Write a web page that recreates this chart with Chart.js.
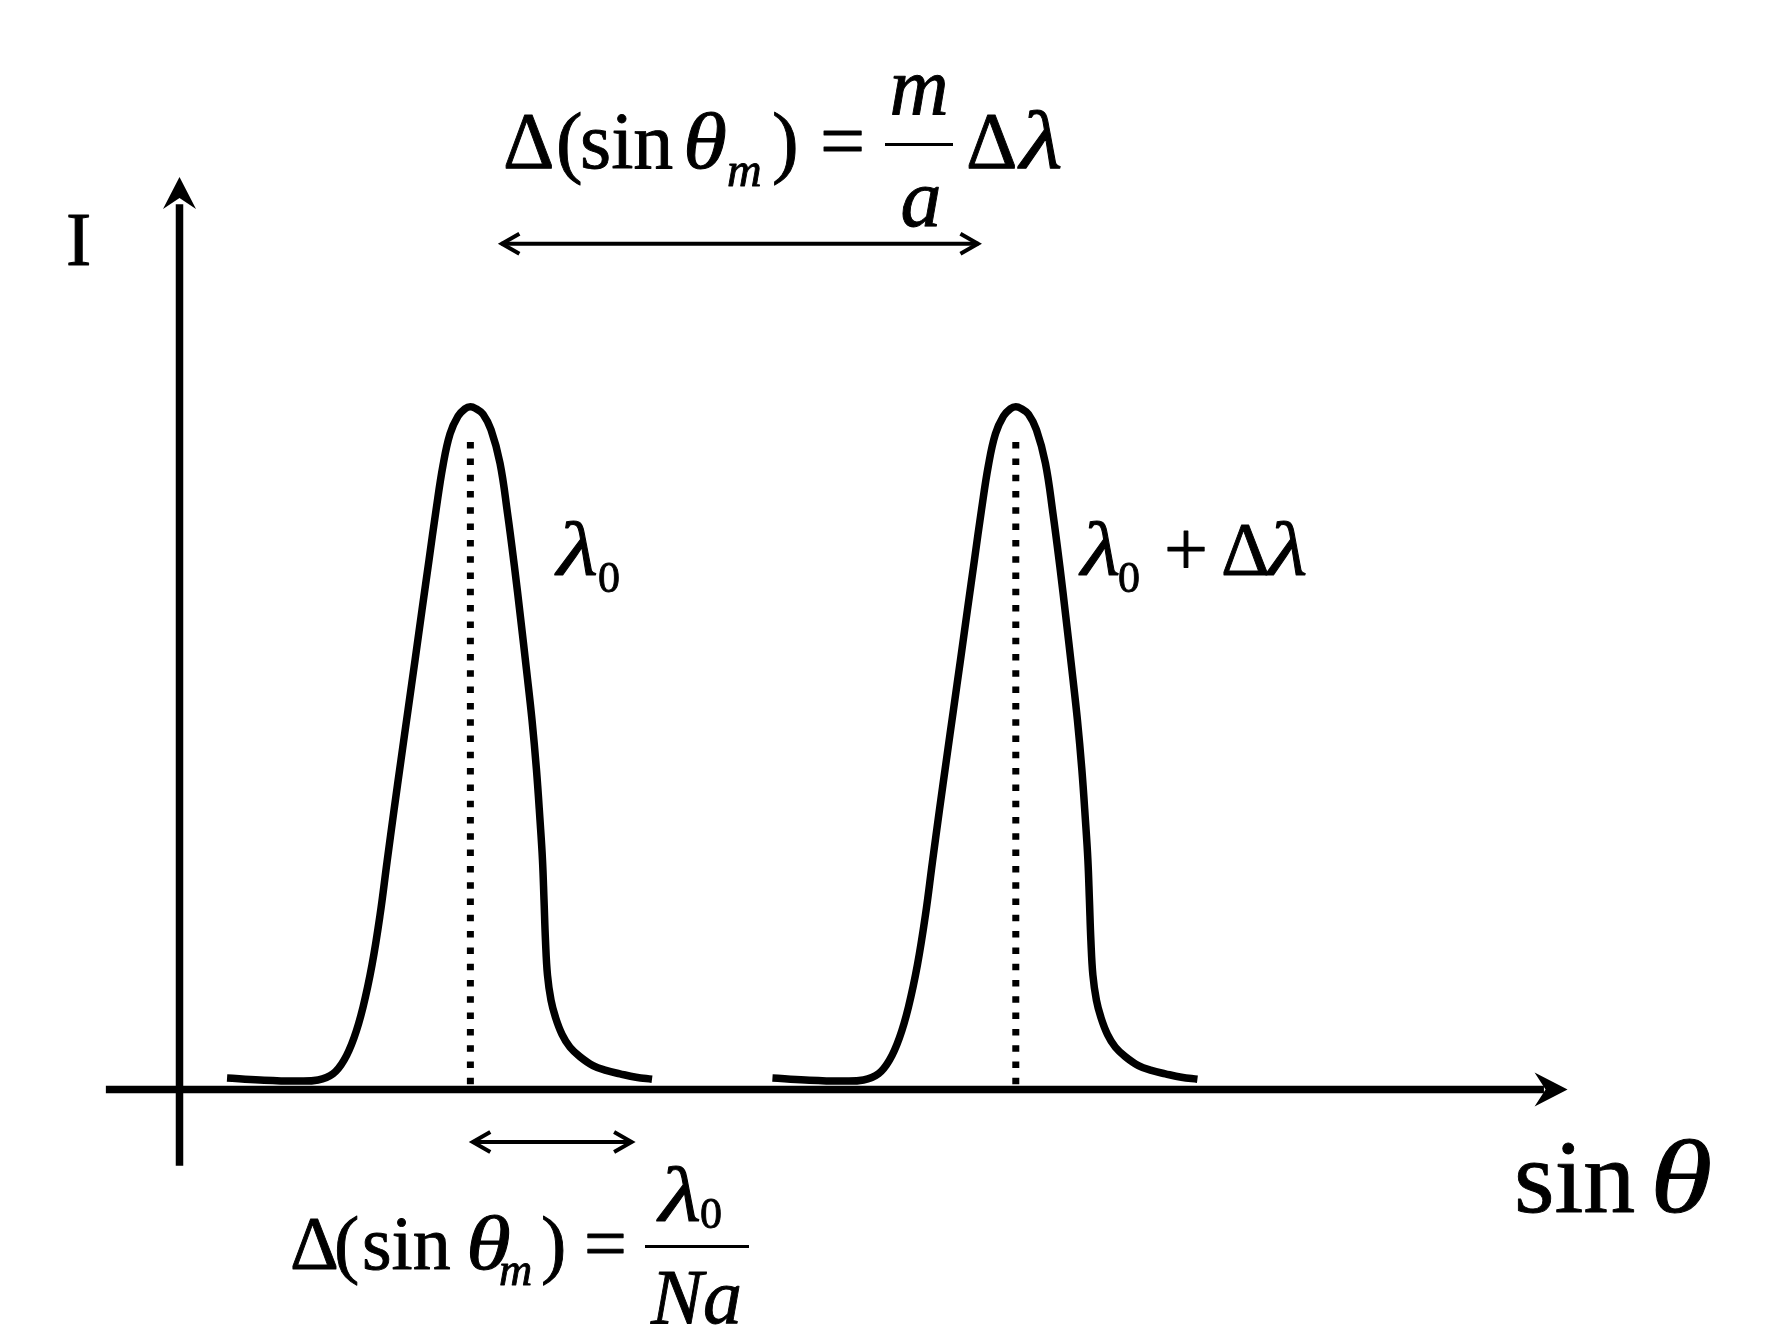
<!DOCTYPE html>
<html>
<head>
<meta charset="utf-8">
<script src="https://cdn.jsdelivr.net/npm/chart.js@4.4.1/dist/chart.umd.min.js"></script>
<style>
  html, body { margin: 0; padding: 0; background: #ffffff; }
  #wrap { width: 1784px; height: 1340px; position: relative; }
</style>
</head>
<body>
<div id="wrap"><canvas id="c"></canvas></div>
<script>
// ---- data (x in sin(theta) units, y in intensity units) ----
const peak1X = [0.523, 0.886, 1.271, 1.524, 1.689, 1.810, 1.920, 2.019, 2.118, 2.206, 2.283, 2.360, 2.437, 2.514, 2.591, 2.668, 2.745, 2.822, 2.899, 2.976, 3.064, 3.141, 3.200, 3.262, 3.339, 3.427, 3.526, 3.608, 3.685, 3.751, 3.817, 3.878, 3.927, 3.966, 3.993, 4.010, 4.026, 4.048, 4.087, 4.136, 4.208, 4.296, 4.406, 4.549, 4.692, 4.846, 5.022, 5.198];
const peak1Y = [0.17, 0.14, 0.125, 0.14, 0.23, 0.43, 0.76, 1.21, 1.83, 2.56, 3.34, 4.10, 4.84, 5.57, 6.30, 7.04, 7.77, 8.50, 9.16, 9.62, 9.88, 9.99, 10.02, 9.99, 9.91, 9.68, 9.19, 8.46, 7.67, 6.93, 6.16, 5.42, 4.69, 3.95, 3.37, 2.78, 2.19, 1.68, 1.31, 1.06, 0.81, 0.62, 0.48, 0.35, 0.28, 0.23, 0.18, 0.15];
const peak2X = [6.523, 6.886, 7.271, 7.524, 7.689, 7.810, 7.920, 8.019, 8.118, 8.206, 8.283, 8.360, 8.437, 8.514, 8.591, 8.668, 8.745, 8.822, 8.899, 8.976, 9.064, 9.141, 9.200, 9.262, 9.339, 9.427, 9.526, 9.608, 9.685, 9.751, 9.817, 9.878, 9.927, 9.966, 9.993, 10.010, 10.026, 10.048, 10.087, 10.136, 10.208, 10.296, 10.406, 10.549, 10.692, 10.846, 11.022, 11.198];
const peak2Y = [0.17, 0.14, 0.125, 0.14, 0.23, 0.43, 0.76, 1.21, 1.83, 2.56, 3.34, 4.10, 4.84, 5.57, 6.30, 7.04, 7.77, 8.50, 9.16, 9.62, 9.88, 9.99, 10.02, 9.99, 9.91, 9.68, 9.19, 8.46, 7.67, 6.93, 6.16, 5.42, 4.69, 3.95, 3.37, 2.78, 2.19, 1.68, 1.31, 1.06, 0.81, 0.62, 0.48, 0.35, 0.28, 0.23, 0.18, 0.15];
const peakCenters = [3.2, 9.2];
const dottedTop = 9.5;
const xAxisExtent = [-0.81, 15.27];
const yAxisExtent = [-1.12, 13.39];
const wideArrow = [3.53, 8.80, 12.41];     // x1, x2, y : Δ(sinθm) = (m/a)Δλ
const narrowArrow = [3.21, 4.99, -0.77];   // x1, x2, y : Δ(sinθm) = λ0/Na
const peakLabels = ['λ', '0', '+', 'Δ', 'λ'];

const toXY = (xs, ys) => xs.map((x, i) => ({ x: x, y: ys[i] }));

const SERIF = '"Liberation Serif", "DejaVu Serif", serif';
function t(ctx, s, x, y, size, italic, wide) {
  ctx.font = (italic ? 'italic ' : '') + size + 'px ' + SERIF;
  ctx.save();
  ctx.translate(x, y);
  ctx.scale(wide || 1, 1);
  ctx.lineWidth = 0.9;
  ctx.lineJoin = 'round';
  ctx.fillText(s, 0, 0);
  ctx.strokeText(s, 0, 0);
  ctx.restore();
}

const annotate = {
  id: 'annotate',
  afterDatasetsDraw(chart) {
    const ctx = chart.ctx;
    const sx = chart.scales.x, sy = chart.scales.y;
    ctx.save();
    ctx.fillStyle = '#000';
    ctx.strokeStyle = '#000';

    // x-axis arrowhead
    let tx = sx.getPixelForValue(xAxisExtent[1]), ty = sy.getPixelForValue(0);
    ctx.beginPath();
    ctx.moveTo(tx, ty);
    ctx.lineTo(tx - 33, ty - 17);
    ctx.lineTo(tx - 22, ty);
    ctx.lineTo(tx - 33, ty + 17);
    ctx.closePath();
    ctx.fill();
    // y-axis arrowhead
    tx = sx.getPixelForValue(0); ty = sy.getPixelForValue(yAxisExtent[1]);
    ctx.beginPath();
    ctx.moveTo(tx, ty);
    ctx.lineTo(tx - 16.5, ty + 32);
    ctx.lineTo(tx, ty + 21);
    ctx.lineTo(tx + 16.5, ty + 32);
    ctx.closePath();
    ctx.fill();

    // double arrows
    function dbl(a) {
      const x1 = sx.getPixelForValue(a[0]), x2 = sx.getPixelForValue(a[1]), y = sy.getPixelForValue(a[2]);
      ctx.lineWidth = 4;
      ctx.lineCap = 'butt';
      ctx.lineJoin = 'miter';
      ctx.beginPath();
      ctx.moveTo(x1 + 1, y); ctx.lineTo(x2 - 1, y);
      ctx.stroke();
      ctx.beginPath();
      ctx.moveTo(x1 + 19, y - 10); ctx.lineTo(x1 + 1.5, y); ctx.lineTo(x1 + 19, y + 10);
      ctx.stroke();
      ctx.beginPath();
      ctx.moveTo(x2 - 19, y - 10); ctx.lineTo(x2 - 1.5, y); ctx.lineTo(x2 - 19, y + 10);
      ctx.stroke();
    }
    dbl(wideArrow);
    dbl(narrowArrow);

    ctx.textAlign = 'left';
    ctx.textBaseline = 'alphabetic';

    // axis labels
    t(ctx, 'I', 66, 265, 76, false);
    t(ctx, 'sin', 1514, 1212, 104, false);
    t(ctx, 'θ', 1650, 1212, 104, true, 1.22);

    // peak labels
    t(ctx, peakLabels[0], 557, 575, 76, true, 1.25);
    t(ctx, peakLabels[1], 598, 592, 44, false);
    t(ctx, peakLabels[0], 1081, 575, 76, true, 1.2);
    t(ctx, peakLabels[1], 1118, 592, 44, false);
    t(ctx, peakLabels[2], 1164, 575, 78, false);
    t(ctx, peakLabels[3], 1221, 575, 76, false);
    t(ctx, peakLabels[4], 1268, 575, 76, true, 1.2);

    // top formula: Δ(sin θm) = (m/a) Δλ
    const B1 = 168;
    t(ctx, 'Δ', 503, B1, 80, false);
    t(ctx, '(', 556, B1, 80, false);
    t(ctx, 'sin', 580, B1, 80, false);
    t(ctx, 'θ', 683, B1, 80, true, 1.12);
    t(ctx, 'm', 727, B1 + 18, 48, true);
    t(ctx, ')', 772, B1, 80, false);
    t(ctx, '=', 820, B1, 80, false);
    ctx.textAlign = 'center';
    t(ctx, 'm', 919, 114, 82, true);
    t(ctx, 'a', 921, 226, 82, true);
    ctx.textAlign = 'left';
    ctx.fillRect(885, 143, 68, 3);
    t(ctx, 'Δ', 966, B1, 80, false);
    t(ctx, 'λ', 1020, B1, 82, true, 1.2);

    // bottom formula: Δ(sin θm) = λ0 / Na
    const B2 = 1269;
    t(ctx, 'Δ', 290, B2, 76, false);
    t(ctx, '(', 334, B2, 76, false);
    t(ctx, 'sin', 362, B2, 76, false);
    t(ctx, 'θ', 466, B2, 76, true, 1.2);
    t(ctx, 'm', 499, B2 + 16, 46, true);
    t(ctx, ')', 541, B2, 76, false);
    t(ctx, '=', 584, B2, 76, false);
    t(ctx, 'λ', 659, 1221, 78, true, 1.25);
    t(ctx, '0', 700, 1228, 44, false);
    ctx.fillRect(645, 1245, 104, 3);
    t(ctx, 'Na', 651, 1323, 78, true);

    ctx.restore();
  }
};

const curveStyle = { borderColor: '#000', borderWidth: 7.5, pointRadius: 0, tension: 0.4, cubicInterpolationMode: 'default', borderJoinStyle: 'round', borderCapStyle: 'butt', fill: false, clip: false };
const dotStyle = { borderColor: '#000', borderWidth: 7, borderDash: [6.5, 9.8], borderCapStyle: 'butt', pointRadius: 0, fill: false, clip: false };
const axisStyle = { borderColor: '#000', borderWidth: 7.5, pointRadius: 0, fill: false, clip: false };

new Chart(document.getElementById('c'), {
  type: 'line',
  data: {
    datasets: [
      Object.assign({ data: toXY(peak1X, peak1Y) }, curveStyle),
      Object.assign({ data: toXY(peak2X, peak2Y) }, curveStyle),
      Object.assign({ data: [{ x: peakCenters[0], y: dottedTop }, { x: peakCenters[0], y: 0 }] }, dotStyle),
      Object.assign({ data: [{ x: peakCenters[1], y: dottedTop }, { x: peakCenters[1], y: 0 }] }, dotStyle),
      Object.assign({ data: [{ x: xAxisExtent[0], y: 0 }, { x: xAxisExtent[1] - 0.26, y: 0 }] }, axisStyle),
      Object.assign({ data: [{ x: 0, y: yAxisExtent[0] }, { x: 0, y: yAxisExtent[1] - 0.4 }] }, axisStyle)
    ]
  },
  options: {
    responsive: true,
    maintainAspectRatio: false,
    animation: false,
    events: [],
    layout: { padding: 0 },
    plugins: { legend: { display: false }, tooltip: { enabled: false }, title: { display: false } },
    scales: {
      x: { type: 'linear', min: -1.9747, max: 17.651, display: false },
      y: { type: 'linear', min: -3.6757, max: 15.987, display: false }
    }
  },
  plugins: [annotate]
});
</script>
</body>
</html>
